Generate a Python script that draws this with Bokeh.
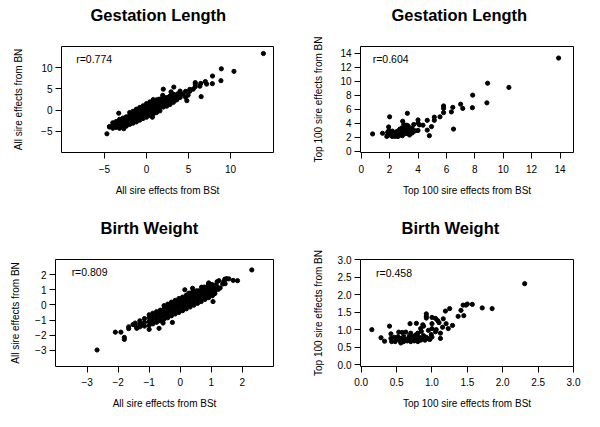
from bokeh.plotting import figure
from bokeh.layouts import column, row
from bokeh.models import Range1d, FixedTicker, Label, PrintfTickFormatter
from bokeh.core.properties import value
from bokeh.embed import file_html
from bokeh.resources import INLINE

# ---------------- data ----------------
titles = ["Gestation Length", "Gestation Length", "Birth Weight", "Birth Weight"]
xlabels = ["All sire effects from BSt", "Top 100 sire effects from BSt",
           "All sire effects from BSt", "Top 100 sire effects from BSt"]
ylabels = ["All sire effects from BN", "Top 100 sire effects from BN",
           "All sire effects from BN", "Top 100 sire effects from BN"]
r_texts = ["r=0.774", "r=0.604", "r=0.809", "r=0.458"]

gl_ticks_all = [-5, 0, 5, 10]
gl_ticks_top = [0, 2, 4, 6, 8, 10, 12, 14]
bw_ticks_all = [-3, -2, -1, 0, 1, 2]
bw_ticks_top = [0.0, 0.5, 1.0, 1.5, 2.0, 2.5, 3.0]

# Gestation length, top 100 sires (also part of all sires)
gl_top_x = [13.9, 8.9, 10.4, 8.85, 7.85, 7.83, 6.5, 7.0, 7.15, 6.45, 6.35, 5.8, 5.8, 5.8,
            5.55, 5.15, 5.15, 4.95, 4.65, 4.65, 4.8, 4.35, 4.0, 4.0, 4.1, 4.0, 3.7, 3.55,
            3.4, 3.25, 2.92, 2.0, 1.93, 0.8, 1.5, 1.86, 1.86, 2.05, 2.2, 2.3, 2.45, 2.55,
            2.65, 2.75, 2.8, 2.85, 2.95, 3.0, 3.05, 3.1, 3.15, 3.2, 3.25, 3.3, 3.4, 3.45,
            3.5, 3.55, 3.6, 2.15, 2.4, 2.6, 2.3, 1.95, 2.1, 2.5, 2.7, 2.9, 3.0, 3.2, 3.1,
            2.7, 3.6, 3.8, 1.8, 2.2, 2.6, 2.9, 3.3, 3.0]
gl_top_y = [13.3, 9.7, 9.1, 6.9, 8.0, 6.2, 3.15, 6.7, 6.1, 6.25, 5.6, 6.45, 6.1, 5.5,
            4.9, 4.85, 4.4, 3.5, 4.4, 3.0, 2.2, 3.7, 4.45, 4.0, 3.75, 2.95, 3.8, 2.95,
            2.3, 5.4, 4.27, 4.9, 3.45, 2.45, 2.55, 2.7, 2.25, 2.3, 2.85, 2.2, 2.45, 2.15,
            2.6, 2.95, 2.4, 3.3, 2.7, 3.2, 3.5, 2.95, 2.5, 3.15, 3.5, 2.85, 3.05, 3.3,
            2.65, 2.95, 3.2, 2.15, 2.1, 2.3, 2.5, 2.95, 2.6, 2.8, 2.3, 3.0, 2.6, 3.7, 3.4,
            3.1, 2.6, 2.9, 2.1, 2.1, 2.1, 2.2, 3.6, 3.8]

# Gestation length, remaining sires (the dense cloud and outliers)
gl_rest_x = [-4.4, -4.4,
             -4.0, -4.0, -4.0,
             -3.6, -3.6, -3.6, -3.6,
             -3.2, -3.2, -3.2, -3.2, -3.2,
             -2.8, -2.8, -2.8, -2.8, -2.8,
             -2.4, -2.4, -2.4, -2.4, -2.4,
             -2.0, -2.0, -2.0, -2.0, -2.0,
             -1.6, -1.6, -1.6, -1.6, -1.6,
             -1.2, -1.2, -1.2, -1.2, -1.2,
             -0.8, -0.8, -0.8, -0.8, -0.8,
             -0.4, -0.4, -0.4, -0.4, -0.4,
             0.0, 0.0, 0.0, 0.0, 0.0,
             0.4, 0.4, 0.4, 0.4, 0.4,
             0.8, 0.8, 0.8, 0.8, 0.8,
             1.2, 1.2, 1.2, 1.2, 1.2,
             1.6, 1.6, 1.6, 1.6,
             2.0, 2.0, 2.0, 2.0,
             2.4, 2.4, 2.4, 2.4,
             2.8, 2.8, 2.8, 2.8,
             3.2, 3.2, 3.2,
             3.6, 3.6,
             -4.7, -3.3, -2.7, 0.7]
gl_rest_y = [-4.0, -3.9,
             -4.3, -3.6, -3.0,
             -4.1, -3.4, -2.7, -3.9,
             -4.3, -3.6, -2.9, -2.2, -3.3,
             -4.0, -3.3, -2.6, -1.9, -2.9,
             -3.8, -3.0, -2.3, -1.6, -2.6,
             -3.4, -2.7, -2.0, -1.3, -0.6,
             -3.1, -2.3, -1.6, -0.9, -0.3,
             -2.8, -2.0, -1.2, -0.5, 0.2,
             -2.4, -1.6, -0.8, 0.0, 0.6,
             -2.0, -1.2, -0.4, 0.3, 1.0,
             -1.7, -0.9, 0.0, 0.8, 1.5,
             -1.3, -0.5, 0.4, 1.1, 1.9,
             -1.0, -0.2, 0.7, 1.5, 2.1,
             -0.6, 0.2, 1.0, 1.8, 2.4,
             -0.2, 0.6, 1.4, 2.1,
             0.7, 1.4, 2.1, 2.8,
             0.9, 1.5, 2.2, 2.9,
             1.3, 1.9, 2.5, 3.2,
             1.8, 2.4, 3.0,
             2.4, 3.1,
             -5.6, -0.75, -4.4, -1.7]

# Birth weight, top 100 sires
bw_top_x = [2.31, 1.71, 1.85, 1.57, 1.5, 1.48, 1.44, 1.41, 1.45, 1.37, 1.25, 1.19, 1.29,
            1.23, 1.2, 1.16, 1.15, 1.08, 1.1, 1.05, 1.12, 1.12, 1.0, 1.0, 1.0, 1.05, 1.06,
            0.99, 1.0, 0.97, 0.95, 0.92, 0.92, 0.92, 0.88, 0.87, 0.84, 0.78, 0.69, 0.15,
            0.28, 0.33, 0.4, 0.42, 0.42, 0.43,
            0.47, 0.5, 0.52, 0.55, 0.57, 0.58, 0.6, 0.6, 0.62, 0.63, 0.65, 0.67, 0.68,
            0.7, 0.72, 0.74, 0.75, 0.77, 0.78, 0.8, 0.8, 0.82, 0.84, 0.85, 0.87, 0.88,
            0.9, 0.92, 0.53, 0.48, 0.56, 0.7, 0.95]
bw_top_y = [2.31, 1.62, 1.6, 1.72, 1.73, 1.7, 1.7, 1.55, 1.4, 1.38, 1.6, 1.53, 1.12,
            1.03, 1.17, 1.31, 1.07, 1.26, 1.2, 1.32, 0.9, 0.75, 1.35, 1.17, 1.03, 0.94, 1.0,
            0.86, 0.79, 0.72, 0.98, 1.45, 1.38, 1.33, 1.1, 1.14, 1.03, 1.18, 1.17, 1.0,
            0.77, 0.67, 1.1, 0.88, 0.75, 0.66,
            0.78, 0.72, 0.8, 0.68, 0.75, 0.92, 0.66, 0.8, 0.72, 0.93, 0.68, 0.76, 0.82,
            0.66, 0.73, 0.8, 0.68, 0.85, 0.72, 0.66, 0.9, 0.78, 0.7, 0.95, 0.76, 0.83,
            0.7, 0.78, 0.93, 0.66, 0.62, 0.9, 0.74]

# Birth weight, remaining sires
bw_rest_x = [-1.45, -1.45,
             -1.3, -1.3, -1.3,
             -1.15, -1.15, -1.15,
             -1.0, -1.0, -1.0, -1.0,
             -0.88, -0.88, -0.88, -0.88,
             -0.76, -0.76, -0.76, -0.76,
             -0.64, -0.64, -0.64, -0.64,
             -0.52, -0.52, -0.52, -0.52, -0.52,
             -0.4, -0.4, -0.4, -0.4, -0.4,
             -0.28, -0.28, -0.28, -0.28, -0.28,
             -0.16, -0.16, -0.16, -0.16, -0.16,
             -0.04, -0.04, -0.04, -0.04, -0.04,
             0.08, 0.08, 0.08, 0.08, 0.08,
             0.2, 0.2, 0.2, 0.2, 0.2,
             0.32, 0.32, 0.32, 0.32, 0.32,
             0.44, 0.44, 0.44, 0.44,
             0.56, 0.56, 0.56,
             0.68, 0.68,
             0.8, 0.8,
             0.92, 0.92,
             1.04,
             -2.68, -2.09, -1.91, -1.8, -1.8, -1.66, -1.66, -1.52, -1.4, -1.23, -1.0,
             -0.68, -0.55, -0.25, 1.06]
bw_rest_y = [-1.35, -1.2,
             -1.45, -1.25, -1.05,
             -1.4, -1.15, -0.9,
             -1.35, -1.1, -0.85, -0.65,
             -1.25, -1.0, -0.78, -0.55,
             -1.15, -0.9, -0.68, -0.45,
             -1.05, -0.8, -0.58, -0.35,
             -0.95, -0.7, -0.48, -0.25, -0.05,
             -0.85, -0.6, -0.38, -0.15, 0.05,
             -0.72, -0.48, -0.26, -0.04, 0.18,
             -0.6, -0.36, -0.14, 0.08, 0.3,
             -0.5, -0.25, -0.02, 0.2, 0.42,
             -0.38, -0.14, 0.1, 0.32, 0.52,
             -0.26, -0.02, 0.22, 0.44, 0.64,
             -0.14, 0.1, 0.34, 0.56, 0.78,
             -0.02, 0.22, 0.46, 0.68,
             0.1, 0.34, 0.58,
             0.22, 0.46,
             0.36, 0.56,
             0.48, 0.62,
             0.6,
             -2.98, -1.8, -1.8, -2.15, -2.28, -1.57, -1.45, -1.3, -1.55, -1.33, -1.62,
             -1.55, -1.2, -1.16, 0.22]

FONT = "Liberation Sans"
DOT = 4.2
STRIP_H = 30


def make_title(width, text, left):
    """A thin strip holding a panel's title (pixel coordinates)."""
    t = figure(width=width, height=STRIP_H, output_backend="svg", toolbar_location=None,
               title=None, x_range=Range1d(0, width), y_range=Range1d(0, STRIP_H),
               x_axis_type=None, y_axis_type=None,
               min_border_left=0, min_border_right=0, min_border_top=0, min_border_bottom=0)
    t.outline_line_color = None
    t.grid.visible = False
    t.background_fill_color = "white"
    t.border_fill_color = "white"
    t.text(x=[left], y=[STRIP_H - 14], text=[text], text_font=value(FONT),
           text_font_size=value("16.5px"), text_font_style="bold", text_color="black",
           text_baseline="alphabetic", text_align="left")
    return t


def make_panel(width, height, borders, xr, yr, xticks, yticks,
               xlabel, ylabel, ylabel_standoff, xtick_standoff, rtext, rpos, fmt=None):
    left, right, top, bottom = borders
    p = figure(width=width, height=height, output_backend="svg", toolbar_location=None,
               title=None, x_range=Range1d(*xr), y_range=Range1d(*yr),
               min_border_left=left, min_border_right=right,
               min_border_top=top, min_border_bottom=bottom)
    p.outline_line_color = "black"
    p.outline_line_width = 1
    p.outline_line_alpha = 1
    p.grid.visible = False
    p.background_fill_color = "white"
    p.border_fill_color = "white"
    for ax, ticks, lab in ((p.xaxis[0], xticks, xlabel), (p.yaxis[0], yticks, ylabel)):
        ax.ticker = FixedTicker(ticks=ticks)
        ax.axis_line_color = None
        ax.minor_tick_line_color = None
        ax.major_tick_in = 0
        ax.major_tick_out = 6
        ax.major_tick_line_color = "black"
        ax.major_label_text_font = FONT
        ax.major_label_text_font_size = "10px"
        ax.major_label_text_color = "black"
        ax.axis_label = lab
        ax.axis_label_text_font = FONT
        ax.axis_label_text_font_size = "10px"
        ax.axis_label_text_font_style = "normal"
        ax.axis_label_text_color = "black"
        if fmt:
            ax.formatter = PrintfTickFormatter(format=fmt)
    p.xaxis.major_label_standoff = xtick_standoff
    p.xaxis.axis_label_standoff = 9
    p.yaxis.major_label_standoff = 3
    p.yaxis.axis_label_standoff = ylabel_standoff
    p.yaxis.major_label_orientation = "horizontal"
    p.add_layout(Label(x=rpos[0], y=rpos[1], text=rtext, text_font=FONT,
                       text_font_size="10.5px", text_color="black",
                       text_baseline="alphabetic", text_align="left"))
    return p


t1 = make_title(300, titles[0], 90)
t2 = make_title(284, titles[1], 91)
t3 = make_title(300, titles[2], 100)
t4 = make_title(284, titles[3], 101)

p1 = make_panel(300, 183, (61, 27, 16, 61), (-10.1, 15.1), (-10.0, 14.95),
                gl_ticks_all, gl_ticks_all,
                xlabels[0], ylabels[0], 14, 6, r_texts[0], (-8.35, 12.0))
p1.scatter(gl_rest_x, gl_rest_y, marker="circle", size=DOT, color="black")
p1.scatter(gl_top_x, gl_top_y, marker="circle", size=DOT, color="black")

p2 = make_panel(284, 183, (60, 11, 16, 61), (-0.05, 14.95), (-0.2, 14.95),
                gl_ticks_top, gl_ticks_top,
                xlabels[1], ylabels[1], 13, 6, r_texts[1], (0.81, 13.1))
p2.scatter(gl_top_x, gl_top_y, marker="circle", size=DOT, color="black")

p3 = make_panel(300, 168, (55, 27, 16, 44), (-4.02, 3.01), (-4.07, 3.0),
                bw_ticks_all, bw_ticks_all,
                xlabels[2], ylabels[2], 11, 5, r_texts[2], (-3.5, 2.19))
p3.scatter(bw_rest_x, bw_rest_y, marker="circle", size=DOT, color="black")
p3.scatter(bw_top_x, bw_top_y, marker="circle", size=DOT, color="black")

p4 = make_panel(284, 168, (60, 11, 16, 44), (-0.01, 3.0), (-0.05, 3.0),
                bw_ticks_top, bw_ticks_top,
                xlabels[3], ylabels[3], 11, 5, r_texts[3], (0.21, 2.62), fmt="%.1f")
p4.scatter(bw_top_x, bw_top_y, marker="circle", size=DOT, color="black")

layout = column(row(t1, t2), row(p1, p2), row(t3, t4), row(p3, p4))
open("out.html", "w").write(file_html(layout, INLINE))
